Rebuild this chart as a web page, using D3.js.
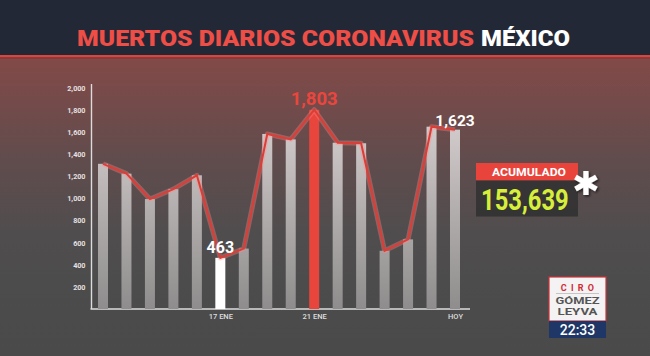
<!DOCTYPE html>
<html><head><meta charset="utf-8">
<script src="https://cdn.jsdelivr.net/npm/d3@7"></script>
<style>html,body{margin:0;padding:0;background:#4b4b4b;overflow:hidden}</style>
</head><body>
<svg id="c" width="650" height="356"></svg>
<script>
// ---- data ----
const days = ["12 ENE","13 ENE","14 ENE","15 ENE","16 ENE","17 ENE","18 ENE","19 ENE",
              "20 ENE","21 ENE","22 ENE","23 ENE","24 ENE","25 ENE","26 ENE","27 ENE"];
const deaths = [1314,1225,995,1085,1210,463,547,1584,1535,1803,1505,1500,527,630,1650,1623];
const yTicks = [200,400,600,800,1000,1200,1400,1600,1800,2000];
const xTickDays = ["17 ENE","21 ENE","27 ENE"];
const xTickNames = ["17 ENE","21 ENE","HOY"];
const lowDay = "17 ENE", peakDay = "21 ENE", todayDay = "27 ENE";
const titleRed = "MUERTOS DIARIOS CORONAVIRUS";
const titleWhite = "MÉXICO";
const accumLabel = "ACUMULADO";
const accumValue = 153639;
const clockText = "22:33";

const data = days.map((d,i)=>({day:d, v:deaths[i]}));
const svg = d3.select("#c");
const W = 650, H = 356;
const F = "Roboto, 'Open Sans', sans-serif";

// ---- defs ----
const defs = svg.append("defs");
const bg = defs.append("linearGradient").attr("id","bg").attr("x1",0).attr("y1",0).attr("x2",0).attr("y2",1);
[[0,"#824a48"],[0.35,"#604c4d"],[0.6,"#4f4d4e"],[1,"#4a4a4a"]].forEach(s=>bg.append("stop").attr("offset",s[0]).attr("stop-color",s[1]));
const bg2 = defs.append("linearGradient").attr("id","barg").attr("gradientUnits","userSpaceOnUse")
  .attr("x1",0).attr("y1",110).attr("x2",0).attr("y2",310);
bg2.append("stop").attr("offset",0).attr("stop-color","#d8d0d0");
bg2.append("stop").attr("offset",1).attr("stop-color","#8e8c8c");
const sh = defs.append("filter").attr("id","sh").attr("x","-30%").attr("y","-30%").attr("width","160%").attr("height","160%");
sh.append("feDropShadow").attr("dx",1.5).attr("dy",1.5).attr("stdDeviation",1.2).attr("flood-color","#000").attr("flood-opacity",0.6);

// ---- background ----
svg.append("rect").attr("x",0).attr("y",58).attr("width",W).attr("height",H-58).attr("fill","url(#bg)");
svg.append("rect").attr("x",0).attr("y",0).attr("width",W).attr("height",55).attr("fill","#232837");
svg.append("rect").attr("x",0).attr("y",55).attr("width",W).attr("height",2.5).attr("fill","#d9463f");
svg.append("rect").attr("x",0).attr("y",57.5).attr("width",W).attr("height",1).attr("fill","#8e2f2c");

// ---- title ----
svg.append("text").attr("x",77).attr("y",45.5).attr("font-family",F).attr("font-weight",900)
  .attr("font-size",22.5).attr("fill","#ee4e46").attr("textLength",397).attr("lengthAdjust","spacingAndGlyphs")
  .text(titleRed);
svg.append("text").attr("x",481).attr("y",45.5).attr("font-family",F).attr("font-weight",900)
  .attr("font-size",22.5).attr("fill","#ffffff").attr("textLength",89).attr("lengthAdjust","spacingAndGlyphs")
  .text(titleWhite);

// ---- scales ----
const x = d3.scalePoint().domain(days).range([103,455]);
const y = d3.scaleLinear().domain([0,2000]).range([309,88]);
const bw = 10;

// ---- axes ----
const yAxis = svg.append("g").attr("transform","translate(91.5,0)")
  .call(d3.axisLeft(y).tickValues(yTicks).tickSize(0).tickPadding(6).tickFormat(d3.format(",")));
yAxis.select(".domain").remove();
yAxis.selectAll("text").attr("font-family",F).attr("font-weight",700).attr("font-size",7.2).attr("fill","#e6e0e0");
svg.append("line").attr("x1",91.5).attr("x2",91.5).attr("y1",y(2000)-4).attr("y2",y(0))
  .attr("stroke","#dcdcdc").attr("stroke-width",1.4);
svg.append("line").attr("x1",90.5).attr("x2",470).attr("y1",y(0)).attr("y2",y(0))
  .attr("stroke","#dcdcdc").attr("stroke-width",1.4);
const xAxis = svg.append("g").attr("transform",`translate(0,${y(0)})`)
  .call(d3.axisBottom(x).tickValues(xTickDays).tickSize(0).tickPadding(5)
    .tickFormat(d=>xTickNames[xTickDays.indexOf(d)]));
xAxis.select(".domain").remove();
xAxis.selectAll("text").attr("font-family",F).attr("font-weight",500).attr("font-size",7.5).attr("fill","#dedede");

// ---- bars ----
svg.append("g").selectAll("rect").data(data).join("rect")
  .attr("x",d=>x(d.day)-bw/2).attr("width",bw)
  .attr("y",d=>y(d.v)).attr("height",d=>y(0)-y(d.v))
  .attr("fill",d=>d.day===lowDay?"#ffffff":(d.day===peakDay?"#e8453c":"url(#barg)"));

// ---- line ----
const line = d3.line().x(d=>x(d.day)).y(d=>y(d.v));
svg.append("path").datum(data).attr("d",line).attr("fill","none")
  .attr("stroke","#ff8a86").attr("stroke-opacity",0.35).attr("stroke-width",5).attr("stroke-linejoin","round");
svg.append("path").datum(data).attr("d",line).attr("fill","none")
  .attr("stroke","#dc3d37").attr("stroke-width",2).attr("stroke-linejoin","miter");

// ---- value labels ----
const lab = [
  {day:lowDay, size:16, color:"#ffffff", dy:5},
  {day:peakDay, size:18.5, color:"#ea463d", dy:5},
  {day:todayDay, size:15.5, color:"#ffffff", dy:4}
];
lab.forEach(l=>{
  const d = data.find(e=>e.day===l.day);
  svg.append("text").attr("x",x(d.day)).attr("y",y(d.v)-l.dy).attr("text-anchor","middle")
    .attr("font-family",F).attr("font-weight",700).attr("font-size",l.size).attr("fill",l.color)
    .text(d3.format(",")(d.v));
});

// ---- accumulated box ----
svg.append("rect").attr("x",476).attr("y",163).attr("width",102).attr("height",17.5).attr("fill","#e8443b");
svg.append("text").attr("x",529).attr("y",176).attr("text-anchor","middle").attr("font-family",F)
  .attr("font-weight",700).attr("font-size",11).attr("fill","#ffffff").attr("textLength",74)
  .attr("lengthAdjust","spacingAndGlyphs").text(accumLabel);
svg.append("rect").attr("x",476).attr("y",180.5).attr("width",102).attr("height",36).attr("fill","#303030").attr("fill-opacity",0.85);
svg.append("text").attr("transform","translate(481,209.5) scale(0.82,1)").attr("font-family",F).attr("font-weight",700)
  .attr("font-size",29).attr("fill","#d7ef3a")
  .text(d3.format(",")(accumValue));
svg.append("text").attr("x",586).attr("y",195).attr("text-anchor","middle").attr("font-family","'DejaVu Sans', sans-serif")
  .attr("font-weight",700).attr("font-size",33).attr("fill","#ffffff").attr("filter","url(#sh)").text("✱");

// ---- logo ----
svg.append("rect").attr("x",549).attr("y",277).attr("width",57).attr("height",44).attr("fill","#f4f2f2")
  .attr("stroke","#c8343a").attr("stroke-width",1.2);
svg.append("text").attr("x",577.5).attr("y",290.5).attr("text-anchor","middle").attr("font-family",F)
  .attr("font-weight",700).attr("font-size",9).attr("fill","#d22b35").attr("letter-spacing",4.2).attr("dx",2).text("CIRO");
svg.append("line").attr("x1",556).attr("x2",599).attr("y1",293.5).attr("y2",293.5).attr("stroke","#b9b9b9").attr("stroke-width",0.8);
svg.append("text").attr("x",577.5).attr("y",303.5).attr("text-anchor","middle").attr("font-family",F)
  .attr("font-weight",700).attr("font-size",9.5).attr("fill","#555555").attr("textLength",44)
  .attr("lengthAdjust","spacingAndGlyphs").text("GÓMEZ");
svg.append("text").attr("x",577.5).attr("y",315).attr("text-anchor","middle").attr("font-family",F)
  .attr("font-weight",700).attr("font-size",9.5).attr("fill","#555555").attr("textLength",40)
  .attr("lengthAdjust","spacingAndGlyphs").text("LEYVA");
svg.append("rect").attr("x",549).attr("y",321).attr("width",57).attr("height",17).attr("fill","#1e3766");
svg.append("text").attr("x",577.5).attr("y",335).attr("text-anchor","middle").attr("font-family",F)
  .attr("font-weight",500).attr("font-size",14).attr("fill","#ffffff").text(clockText);
</script>
</body></html>
